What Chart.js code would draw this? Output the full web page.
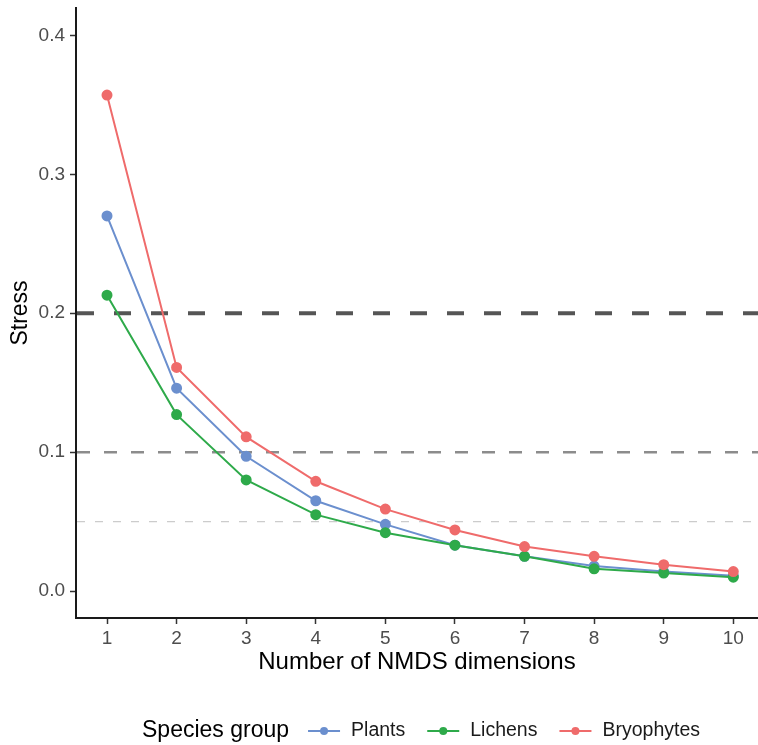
<!DOCTYPE html>
<html>
<head>
<meta charset="utf-8">
<script src="https://cdn.jsdelivr.net/npm/chart.js@4.4.1/dist/chart.umd.min.js"></script>
<style>
  html, body { margin: 0; padding: 0; background: #fff; }
  #wrap { width: 758px; height: 745px; position: relative; }
</style>
</head>
<body>
<div id="wrap"><canvas id="stressChart"></canvas></div>
<script>
// values
const dims = [1, 2, 3, 4, 5, 6, 7, 8, 9, 10];
const plants = [0.270, 0.146, 0.097, 0.065, 0.048, 0.033, 0.025, 0.018, 0.014, 0.011];
const lichens = [0.213, 0.127, 0.080, 0.055, 0.042, 0.033, 0.025, 0.016, 0.013, 0.010];
const bryophytes = [0.357, 0.161, 0.111, 0.079, 0.059, 0.044, 0.032, 0.025, 0.019, 0.014];
const yTicks = [0.0, 0.1, 0.2, 0.3, 0.4];
const thresholds = [0.2, 0.1, 0.05];

const FONT = '"Liberation Sans", Arial, sans-serif';

// look of the reference lines, one per threshold
const threshStyle = [
  { color: '#555555', width: 4, dash: [17, 20] },
  { color: '#8c8c8c', width: 2.5, dash: [13, 14] },
  { color: '#cccccc', width: 1.2, dash: [8, 10] }
];

function pts(vals) {
  return dims.map((d, i) => ({ x: d, y: vals[i] }));
}

// dashed horizontal lines, drawn under the series
const threshPlugin = {
  id: 'thresh',
  beforeDatasetsDraw(chart) {
    const { ctx, chartArea, scales } = chart;
    ctx.save();
    ctx.beginPath();
    ctx.rect(chartArea.left, chartArea.top, chartArea.right - chartArea.left, chartArea.bottom - chartArea.top);
    ctx.clip();
    thresholds.forEach((t, i) => {
      const s = threshStyle[i];
      const y = scales.y.getPixelForValue(t);
      ctx.strokeStyle = s.color;
      ctx.lineWidth = s.width;
      ctx.setLineDash(s.dash);
      ctx.beginPath();
      ctx.moveTo(chartArea.left + 1, y);
      ctx.lineTo(chartArea.right, y);
      ctx.stroke();
    });
    ctx.restore();
  }
};

// ggplot-like legend at the bottom, built from the datasets
const legendPlugin = {
  id: 'bottomLegend',
  afterDraw(chart) {
    const { ctx, chartArea } = chart;
    const y = 731;
    ctx.save();
    ctx.textBaseline = 'middle';
    ctx.font = '23px ' + FONT;
    const title = 'Species group';
    const titleW = ctx.measureText(title).width;
    ctx.font = '19.5px ' + FONT;
    const items = chart.data.datasets.map(ds => ({
      label: ds.label, color: ds.borderColor, w: ctx.measureText(ds.label).width
    }));
    const keyW = 32, afterTitle = 19, afterKey = 11, afterLabel = 22;
    let total = titleW + afterTitle;
    items.forEach((it, i) => {
      total += keyW + afterKey + it.w + (i < items.length - 1 ? afterLabel : 0);
    });
    const cx = (chartArea.left + chartArea.right) / 2 + 4;
    let x = cx - total / 2;
    ctx.fillStyle = '#000';
    ctx.font = '23px ' + FONT;
    ctx.fillText(title, x, y);
    x += titleW + afterTitle;
    ctx.font = '19.5px ' + FONT;
    items.forEach(it => {
      ctx.strokeStyle = it.color;
      ctx.lineWidth = 2;
      ctx.beginPath();
      ctx.moveTo(x, y);
      ctx.lineTo(x + keyW, y);
      ctx.stroke();
      ctx.fillStyle = it.color;
      ctx.beginPath();
      ctx.arc(x + keyW / 2, y, 4, 0, Math.PI * 2);
      ctx.fill();
      x += keyW + afterKey;
      ctx.fillStyle = '#1a1a1a';
      ctx.fillText(it.label, x, y);
      x += it.w + afterLabel;
    });
    ctx.restore();
  }
};

function series(label, vals, color, order) {
  return {
    label: label,
    data: pts(vals),
    borderColor: color,
    backgroundColor: color,
    pointBackgroundColor: color,
    pointBorderColor: color,
    borderWidth: 2,
    pointRadius: 4.5,
    pointHoverRadius: 4.5,
    tension: 0,
    order: order
  };
}

const ctx = document.getElementById('stressChart').getContext('2d');

new Chart(ctx, {
  type: 'line',
  data: {
    datasets: [
      series('Plants', plants, '#6b8fce', 3),
      series('Lichens', lichens, '#2eaa4a', 2),
      series('Bryophytes', bryophytes, '#ef6b6b', 1)
    ]
  },
  options: {
    responsive: true,
    maintainAspectRatio: false,
    animation: false,
    layout: { autoPadding: false, padding: { top: 8, right: 0, bottom: 67, left: 0 } },
    plugins: {
      legend: { display: false },
      tooltip: { enabled: false }
    },
    scales: {
      x: {
        type: 'linear',
        min: 0.5545,
        max: 10.355,
        afterBuildTicks(scale) { scale.ticks = dims.map(v => ({ value: v })); },
        afterFit(scale) {
          scale.height = 60;
          scale.paddingLeft = 0;
          scale.paddingRight = 0;
        },
        grid: { drawOnChartArea: false, drawTicks: true, tickLength: 6, tickColor: '#333', tickWidth: 1.5 },
        border: { display: true, color: '#1a1a1a', width: 2 },
        ticks: {
          autoSkip: false,
          maxRotation: 0,
          padding: 3,
          color: '#4d4d4d',
          font: { family: FONT, size: 19 },
          callback: v => String(v)
        },
        title: {
          display: true,
          text: 'Number of NMDS dimensions',
          color: '#000',
          font: { family: FONT, size: 24 },
          padding: { top: 0, bottom: 1 }
        }
      },
      y: {
        min: -0.0194,
        max: 0.4197,
        afterBuildTicks(scale) { scale.ticks = yTicks.map(v => ({ value: v })); },
        afterFit(scale) {
          scale.width = 76;
          scale.paddingTop = 0;
          scale.paddingBottom = 0;
        },
        grid: { drawOnChartArea: false, drawTicks: true, tickLength: 6, tickColor: '#333', tickWidth: 1.5 },
        border: { display: true, color: '#1a1a1a', width: 2 },
        ticks: {
          padding: 5,
          color: '#4d4d4d',
          font: { family: FONT, size: 19 },
          callback: v => v.toFixed(1)
        },
        title: {
          display: true,
          text: 'Stress',
          color: '#000',
          font: { family: FONT, size: 23 },
          padding: { top: 7, bottom: 0 }
        }
      }
    }
  },
  plugins: [threshPlugin, legendPlugin]
});
</script>
</body>
</html>
